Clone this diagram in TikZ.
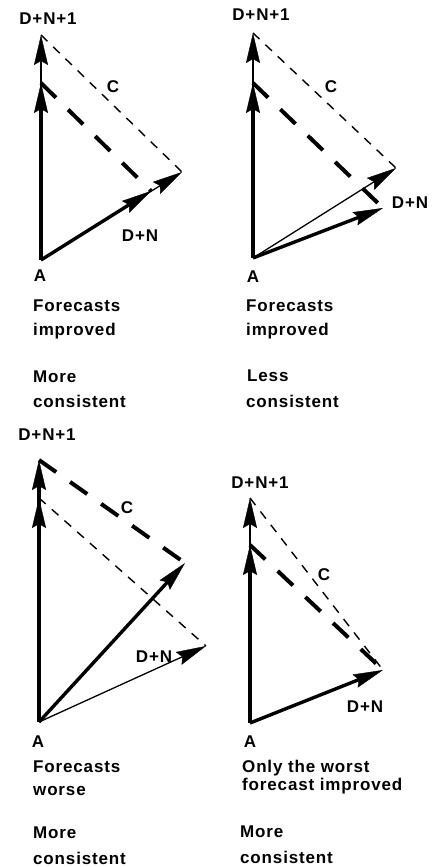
\documentclass[tikz,border=0pt]{standalone}
\usepackage{fontspec}
\setmainfont{Liberation Sans}[LetterSpace=5]
\usetikzlibrary{arrows.meta}
\begin{document}
\begin{tikzpicture}[x=1pt,y=-1pt,
  font=\bfseries\fontsize{17}{20}\selectfont,
  vec/.style={line width=1.3pt,-{Stealth[length=30pt,width=14pt,inset=4pt,line width=0.4pt]}},
  vecthick/.style={vec,line width=3.4pt},
  dashthin/.style={line width=1.4pt,dash pattern=on 9pt off 8pt},
  dashthick/.style={line width=4pt,dash pattern=on 21pt off 17pt},
  captxt/.style={anchor=base west,inner sep=0pt}]
\useasboundingbox (0,0) rectangle (432,867);
% forecasts improved, more consistent
\coordinate (A1) at (41,260);
\coordinate (P1) at (41,35);
\coordinate (Q1) at (41,83);
\coordinate (R1) at (182,172);
\coordinate (S1) at (151,191);
\draw[vec] (A1) -- (P1);
\draw[vecthick] (A1) -- (Q1);
\draw[vec] (A1) -- (R1);
\draw[vecthick] (A1) -- (S1);
\draw[dashthin] (P1) -- (R1);
\draw[dashthick] (Q1) -- (S1);
\node (n1) at (48,19) {D+N+1};
\node (c1) at (113,87) {C};
\node (d1) at (140,236) {D+N};
\node (a1) at (40,276) {A};
\node[captxt] (f1) at (33,311) {Forecasts};
\node[captxt] (i1) at (33,335) {improved};
\node[captxt] (m1) at (33,382) {More};
\node[captxt] (k1) at (33,407) {consistent};
% forecasts improved, less consistent
\coordinate (A2) at (253,258);
\coordinate (P2) at (253,33);
\coordinate (Q2) at (253,83);
\coordinate (R2) at (396,168);
\coordinate (S2) at (383,208);
\draw[vec] (A2) -- (P2);
\draw[vecthick] (A2) -- (Q2);
\draw[vec] (A2) -- (R2);
\draw[vecthick] (A2) -- (S2);
\draw[dashthin] (P2) -- (R2);
\draw[dashthick] (Q2) -- (S2);
\node (n2) at (261,15) {D+N+1};
\node (c2) at (331,87) {C};
\node (d2) at (410,203) {D+N};
\node (a2) at (253,277) {A};
\node[captxt] (f2) at (246,311) {Forecasts};
\node[captxt] (i2) at (246,335) {improved};
\node[captxt] (m2) at (247,381) {Less};
\node[captxt] (k2) at (246,407) {consistent};
% forecasts worse, more consistent
\coordinate (A3) at (39,722);
\coordinate (P3) at (39,498);
\coordinate (Q3) at (39,460);
\coordinate (R3) at (206,646);
\coordinate (S3) at (185,563);
\draw[vec] (A3) -- (P3);
\draw[vecthick] (A3) -- (Q3);
\draw[vec] (A3) -- (R3);
\draw[vecthick] (A3) -- (S3);
\draw[dashthin] (P3) -- (R3);
\draw[dashthick] (Q3) -- (S3);
\node (n3) at (47,435) {D+N+1};
\node (c3) at (127,508) {C};
\node (d3) at (154,657) {D+N};
\node (a3) at (38,742) {A};
\node[captxt] (f3) at (33,772) {Forecasts};
\node[captxt] (i3) at (33,795) {worse};
\node[captxt] (m3) at (33,838) {More};
\node[captxt] (k3) at (33,864) {consistent};
% only the worst forecast improved
\coordinate (A4) at (250,723);
\coordinate (P4) at (250,498);
\coordinate (Q4) at (250,545);
\coordinate (S4) at (383,670);
\draw[vec] (A4) -- (P4);
\draw[vecthick] (A4) -- (Q4);
\draw[vecthick] (A4) -- (S4);
\draw[dashthin] (P4) -- (S4);
\draw[dashthick] (Q4) -- (S4);
\node (n4) at (260,483) {D+N+1};
\node (c4) at (324,575) {C};
\node (d4) at (365,707) {D+N};
\node (a4) at (250,742) {A};
\node[captxt] (f4) at (242,772) {Only the worst};
\node[captxt] (i4) at (242,790) {forecast improved};
\node[captxt] (m4) at (240,837) {More};
\node[captxt] (k4) at (240,863) {consistent};
\end{tikzpicture}
\end{document}
